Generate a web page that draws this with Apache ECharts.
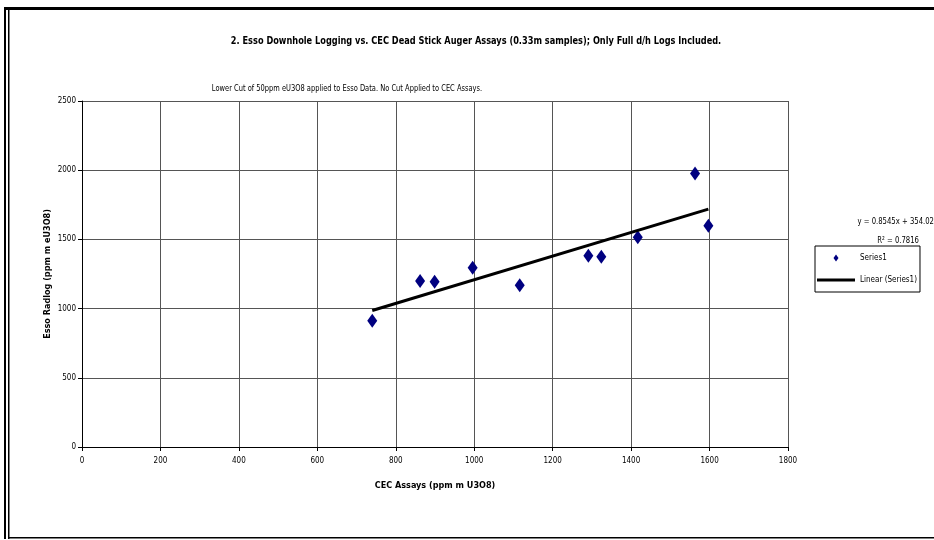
<!DOCTYPE html>
<html>
<head>
<meta charset="utf-8">
<title>Esso Downhole Logging vs. CEC Dead Stick Auger Assays</title>
<script src="https://cdn.jsdelivr.net/npm/echarts@6/dist/echarts.min.js"></script>
<style>
  html, body { margin: 0; padding: 0; background: #fff; }
  #chart { width: 934px; height: 540px; }
</style>
</head>
<body>
<div id="chart"></div>
<script>
// CEC dead stick auger assays (ppm m U3O8) against Esso radlog (ppm m eU3O8)
const cecAssays = [740, 862, 899, 996, 1116, 1291, 1324, 1417, 1563, 1597];
const essoRadlog = [912, 1199, 1194, 1296, 1168, 1382, 1375, 1515, 1977, 1599];

// Linear trend fitted to the pairs above
const trendSlope = 0.8545;
const trendIntercept = 354.02;
const trendR2 = 0.7816;

const xTicks = [0, 200, 400, 600, 800, 1000, 1200, 1400, 1600, 1800];
const yTicks = [0, 500, 1000, 1500, 2000, 2500];

const titleText = '2. Esso Downhole Logging vs. CEC Dead Stick Auger Assays (0.33m samples); Only Full d/h Logs Included.';
const subtitleText = 'Lower Cut of 50ppm eU3O8 applied to Esso Data. No Cut Applied to CEC Assays.';

const FONT = '"Liberation Sans Narrow", "DejaVu Sans Condensed", "Liberation Sans", Arial, sans-serif';

const points = cecAssays.map((x, i) => [x, essoRadlog[i]]);
const xMin = Math.min(...cecAssays);
const xMax = Math.max(...cecAssays);
const trendLine = [xMin, xMax].map(x => [x, trendSlope * x + trendIntercept]);

const plainNumber = v => String(v);

const chart = echarts.init(document.getElementById('chart'));

chart.setOption({
  backgroundColor: '#fff',
  animation: false,
  textStyle: { fontFamily: FONT },
  grid: { left: 82, right: 146, top: 101, bottom: 93, containLabel: false },
  xAxis: {
    type: 'value',
    min: xTicks[0],
    max: xTicks[xTicks.length - 1],
    interval: xTicks[1] - xTicks[0],
    name: 'CEC Assays (ppm m U3O8)',
    nameLocation: 'middle',
    nameGap: 34,
    nameMoveOverlap: false,
    nameTextStyle: { fontFamily: FONT, fontSize: 9, fontWeight: 'bold', color: '#000' },
    axisLine: { show: true, onZero: false, lineStyle: { color: '#000', width: 1 } },
    axisTick: { show: true, length: 4, lineStyle: { color: '#000' } },
    axisLabel: { fontFamily: FONT, fontSize: 8, color: '#000', margin: 10, formatter: plainNumber },
    splitLine: { show: true, lineStyle: { color: '#555', width: 1 } }
  },
  yAxis: {
    type: 'value',
    min: yTicks[0],
    max: yTicks[yTicks.length - 1],
    interval: yTicks[1] - yTicks[0],
    name: 'Esso Radlog (ppm m eU3O8)',
    nameLocation: 'middle',
    nameGap: 30,
    nameRotate: 90,
    nameMoveOverlap: false,
    nameTextStyle: { fontFamily: FONT, fontSize: 9, fontWeight: 'bold', color: '#000' },
    axisLine: { show: true, onZero: false, lineStyle: { color: '#000', width: 1 } },
    axisTick: { show: true, length: 4, lineStyle: { color: '#000' } },
    axisLabel: { fontFamily: FONT, fontSize: 8, color: '#000', margin: 6, formatter: plainNumber },
    splitLine: { show: true, lineStyle: { color: '#555', width: 1 } }
  },
  legend: {
    orient: 'vertical',
    left: 815,
    top: 246,
    backgroundColor: '#fff',
    borderColor: '#000',
    borderWidth: 1,
    padding: [8, 3, 8, 2],
    itemGap: 14,
    itemWidth: 38,
    itemHeight: 7,
    textStyle: { fontFamily: FONT, fontSize: 8, color: '#000' },
    data: [
      { name: 'Series1', icon: 'path://M5,0L10,7L5,14L0,7Z', itemStyle: { color: '#000080', opacity: 1 } },
      { name: 'Linear (Series1)', icon: 'path://M0,0L38,0L38,3L0,3Z', itemStyle: { color: '#000', opacity: 1 } }
    ]
  },
  series: [
    {
      name: 'Series1',
      type: 'scatter',
      data: points,
      symbol: 'diamond',
      symbolSize: [10, 14],
      itemStyle: { color: '#000080', opacity: 1 },
      z: 2
    },
    {
      name: 'Linear (Series1)',
      type: 'line',
      data: trendLine,
      symbol: 'none',
      showSymbol: false,
      lineStyle: { color: '#000', width: 3 },
      itemStyle: { color: '#000' },
      z: 3
    }
  ],
  graphic: [
    // frame: heavy top rule, double rule on the left, thin rule along the bottom
    { type: 'rect', shape: { x: 5, y: 7, width: 929, height: 3 }, style: { fill: '#000' }, silent: true },
    { type: 'rect', shape: { x: 4, y: 7, width: 2, height: 532 }, style: { fill: '#000' }, silent: true },
    { type: 'rect', shape: { x: 8, y: 7, width: 1.5, height: 532 }, style: { fill: '#000' }, silent: true },
    { type: 'rect', shape: { x: 8, y: 537, width: 926, height: 1.5 }, style: { fill: '#000' }, silent: true },
    {
      type: 'text', x: 476, y: 41, scaleX: 0.83, silent: true,
      style: { text: titleText, fill: '#000', font: 'bold 11px ' + FONT, textAlign: 'center', textVerticalAlign: 'middle' }
    },
    {
      type: 'text', x: 347, y: 89, scaleX: 0.93, silent: true,
      style: { text: subtitleText, fill: '#000', font: '8px ' + FONT, textAlign: 'center', textVerticalAlign: 'middle' }
    },
    {
      type: 'text', x: 934, y: 222, scaleX: 0.85, silent: true,
      style: { text: 'y = ' + trendSlope + 'x + ' + trendIntercept.toFixed(2), fill: '#000', font: '9px ' + FONT, textAlign: 'right', textVerticalAlign: 'middle' }
    },
    {
      type: 'text', x: 919, y: 241, scaleX: 0.85, silent: true,
      style: { text: 'R\u00B2 = ' + trendR2, fill: '#000', font: '9px ' + FONT, textAlign: 'right', textVerticalAlign: 'middle' }
    }
  ]
});
</script>
</body>
</html>
